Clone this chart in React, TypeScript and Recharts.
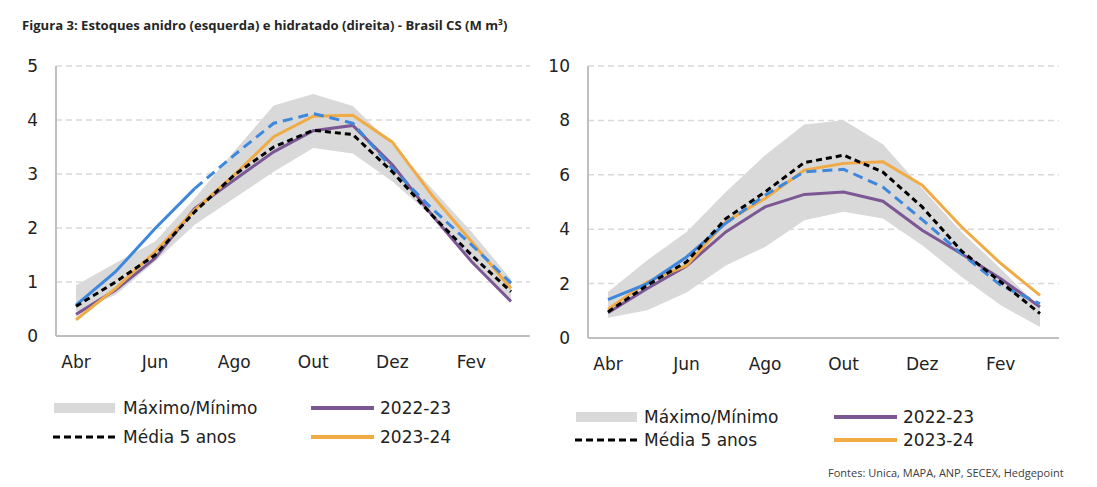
import React from "react"
import { ComposedChart, Area, Line, XAxis, YAxis, CartesianGrid } from "recharts"

const months = ["Abr", "Mai", "Jun", "Jul", "Ago", "Set", "Out", "Nov", "Dez", "Jan", "Fev", "Mar"]

// anidro (left)
const anMax = [0.94, 1.35, 1.75, 2.55, 3.42, 4.27, 4.48, 4.26, 3.54, 2.73, 1.93, 1.05]
const anMin = [0.45, 0.76, 1.38, 2.06, 2.55, 3.04, 3.48, 3.38, 2.86, 2.22, 1.38, 0.62]
const anMedia = [0.55, 1.0, 1.5, 2.3, 2.98, 3.5, 3.81, 3.73, 3.04, 2.24, 1.5, 0.82]
const an2223 = [0.4, 0.85, 1.44, 2.36, 2.89, 3.41, 3.8, 3.9, 3.17, 2.24, 1.38, 0.64]
const an2324 = [0.3, 0.88, 1.56, 2.33, 2.98, 3.69, 4.07, 4.09, 3.59, 2.61, 1.75, 0.88]
const an2425 = [0.57, 1.19, 1.99, 2.73, null, null, null, null, null, null, null, null]
const an2425proj = [null, null, null, 2.73, 3.35, 3.94, 4.12, 3.94, 3.1, 2.36, 1.69, 0.98]

// hidratado (right)
const hiMax = [1.69, 2.86, 3.9, 5.37, 6.72, 7.85, 8.01, 7.12, 5.5, 3.9, 2.55, 1.1]
const hiMin = [0.74, 1.02, 1.67, 2.67, 3.35, 4.33, 4.64, 4.39, 3.41, 2.25, 1.2, 0.4]
const hiMedia = [0.96, 1.94, 2.8, 4.39, 5.37, 6.45, 6.72, 6.1, 4.82, 3.2, 2.06, 0.9]
const hi2223 = [0.93, 1.82, 2.65, 3.9, 4.82, 5.28, 5.37, 5.03, 3.96, 3.1, 2.18, 1.14]
const hi2324 = [1.06, 2.06, 2.67, 4.27, 5.13, 6.17, 6.42, 6.48, 5.62, 4.09, 2.74, 1.57]
const hi2425 = [1.41, 2.0, 2.98, 4.22, null, null, null, null, null, null, null, null]
const hi2425proj = [null, null, null, 4.22, 5.25, 6.11, 6.2, 5.55, 4.35, 3.1, 1.94, 1.26]

const anTicks = [0, 1, 2, 3, 4, 5]
const hiTicks = [0, 2, 4, 6, 8, 10]

const GRAY = "#d9d9d9"
const PURPLE = "#7b5894"
const ORANGE = "#f0ab45"
const BLUE = "#3d87dc"
const FONT = "DejaVu Sans"

function rows(max, min, media, s1, s2, cur, proj) {
  return months.map((m, i) => ({
    m,
    band: [min[i], max[i]],
    media: media[i],
    s1: s1[i],
    s2: s2[i],
    cur: cur[i],
    proj: proj[i],
  }))
}

const anRows = rows(anMax, anMin, anMedia, an2223, an2324, an2425, an2425proj)
const hiRows = rows(hiMax, hiMin, hiMedia, hi2223, hi2324, hi2425, hi2425proj)

function Panel({ data, ticks, yWidth, width, bottom, pad }) {
  const tick = { fill: "#222", fontSize: 17, fontFamily: FONT }
  return (
    <ComposedChart width={width} height={400} data={data} margin={{ top: 66, right: 10, bottom, left: 0 }}>
      <CartesianGrid vertical={false} stroke={GRAY} strokeDasharray="6 4" strokeWidth={1.5} />
      <XAxis dataKey="m" interval={1} tickLine={false} axisLine={{ stroke: "#bfbfbf", strokeWidth: 2 }}
        tick={tick} tickMargin={14} height={30} padding={pad} />
      <YAxis domain={[ticks[0], ticks[ticks.length - 1]]} ticks={ticks} width={yWidth} tickLine={false}
        axisLine={{ stroke: "#bfbfbf", strokeWidth: 2 }} tick={tick} tickMargin={12} />
      <Area dataKey="band" fill={GRAY} fillOpacity={1} stroke="none" isAnimationActive={false} />
      <Line dataKey="s1" stroke={PURPLE} strokeWidth={3} dot={false} isAnimationActive={false} />
      <Line dataKey="s2" stroke={ORANGE} strokeWidth={3} dot={false} isAnimationActive={false} />
      <Line dataKey="cur" stroke={BLUE} strokeWidth={3} dot={false} isAnimationActive={false} />
      <Line dataKey="proj" stroke={BLUE} strokeWidth={3} strokeDasharray="10 6" dot={false} isAnimationActive={false} />
      <Line dataKey="media" stroke="#000" strokeWidth={3} strokeDasharray="6 4" dot={false} isAnimationActive={false} />
    </ComposedChart>
  )
}

function Legend({ x, y1, y2, rectX, lineX }) {
  const txt = { fontFamily: FONT, fontSize: 17, fill: "#222" }
  return (
    <g>
      <rect x={rectX} y={y1 - 5} width={61} height={10} fill={GRAY} />
      <text x={x} y={y1} dominantBaseline="central" {...txt}>Máximo/Mínimo</text>
      <line x1={rectX - 1} x2={rectX + 62} y1={y2} y2={y2} stroke="#000" strokeWidth={3} strokeDasharray="7 4" />
      <text x={x} y={y2} dominantBaseline="central" {...txt}>Média 5 anos</text>
      <line x1={lineX} x2={lineX + 63} y1={y1} y2={y1} stroke={PURPLE} strokeWidth={4} />
      <text x={lineX + 69} y={y1} dominantBaseline="central" {...txt}>2022-23</text>
      <line x1={lineX} x2={lineX + 63} y1={y2} y2={y2} stroke={ORANGE} strokeWidth={4} />
      <text x={lineX + 69} y={y2} dominantBaseline="central" {...txt}>2023-24</text>
    </g>
  )
}

export default function App() {
  return (
    <div style={{ position: "absolute", left: 0, top: 0, width: 1097, height: 487, background: "#fff" }}>
      <div style={{ position: "absolute", left: 0, top: 0 }}>
        <Panel data={anRows} ticks={anTicks} yWidth={56} width={540} bottom={34} pad={{ left: 20, right: 19 }} />
      </div>
      <div style={{ position: "absolute", left: 540, top: 0 }}>
        <Panel data={hiRows} ticks={hiTicks} yWidth={48} width={529} bottom={32} pad={{ left: 20, right: 19 }} />
      </div>
      <svg width={1097} height={487} style={{ position: "absolute", left: 0, top: 0, pointerEvents: "none" }}>
        <text x={22} y={30} fontFamily="Open Sans" fontWeight="bold" fontSize={13.1} fill="#262626">
          Figura 3: Estoques anidro (esquerda) e hidratado (direita) - Brasil CS (M m³)
        </text>
        <Legend x={123} y1={408} y2={437} rectX={54} lineX={311} />
        <Legend x={644} y1={417} y2={440} rectX={576} lineX={834} />
        <text x={828} y={472} dominantBaseline="central" fontFamily="Open Sans" fontSize={11} fill="#404040">
          Fontes: Unica, MAPA, ANP, SECEX, Hedgepoint
        </text>
      </svg>
    </div>
  )
}
